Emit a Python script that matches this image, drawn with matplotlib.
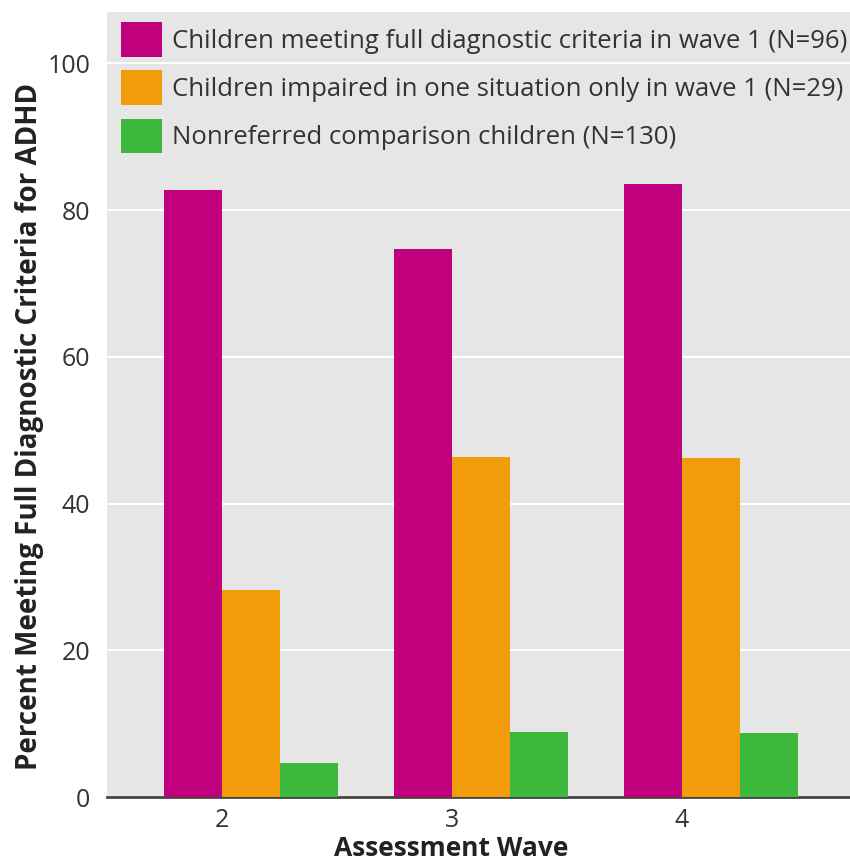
import matplotlib
matplotlib.use("Agg")
import matplotlib.pyplot as plt
import numpy as np

waves = ["2", "3", "4"]
full_criteria = [82.7, 74.7, 83.5]
one_situation = [28.2, 46.4, 46.2]
comparison = [4.6, 8.9, 8.7]
series_labels = [
    "Children meeting full diagnostic criteria in wave 1 (N=96)",
    "Children impaired in one situation only in wave 1 (N=29)",
    "Nonreferred comparison children (N=130)",
]
colors = ["#c0007c", "#f29c0c", "#3cb93c"]

plt.rcParams["font.family"] = ["Open Sans", "DejaVu Sans"]

fig = plt.figure(figsize=(8.5, 8.64), dpi=100)
ax = fig.add_axes([0.126, 0.0775, 0.874, 0.9085])
ax.set_facecolor("#e6e6e6")

x = np.arange(len(waves)) + 2
w = 0.252
for i, (vals, lab, c) in enumerate(zip([full_criteria, one_situation, comparison], series_labels, colors)):
    ax.bar(x + (i - 1) * w, vals, width=w, align="edge", color=c, label=lab, zorder=3)

ax.set_ylim(0, 107)
ax.set_xlim(1.5, 4.73)
ax.set_yticks([0, 20, 40, 60, 80, 100])
ax.set_xticks(x)
ax.set_xticklabels(waves)
ax.yaxis.grid(True, color="white", linewidth=1.5, zorder=0)
ax.set_axisbelow(True)
for s in ["top", "right", "left"]:
    ax.spines[s].set_visible(False)
ax.spines["bottom"].set_color("#444444")
ax.spines["bottom"].set_linewidth(2)
ax.tick_params(axis="both", length=0, labelsize=18, colors="#333333", pad=8)
ax.tick_params(axis="y", pad=12)
ax.set_ylabel("Percent Meeting Full Diagnostic Criteria for ADHD", fontsize=20, fontweight="bold", color="#222222")
ax.yaxis.set_label_coords(-0.085, 0.472)
ax.set_xlabel("Assessment Wave", fontsize=19, fontweight="bold", color="#222222", labelpad=2)
ax.xaxis.set_label_coords(0.463, -0.048)

leg = ax.legend(loc="upper left", bbox_to_anchor=(14 / 743, 1 - 10 / 785), frameon=False, fontsize=18.5,
                handlelength=1.6, handleheight=1.7, labelspacing=0.53, handletextpad=0.4,
                borderaxespad=0, borderpad=0)
for t in leg.get_texts():
    t.set_color("#333333")

fig.savefig("out.png", dpi=100)
